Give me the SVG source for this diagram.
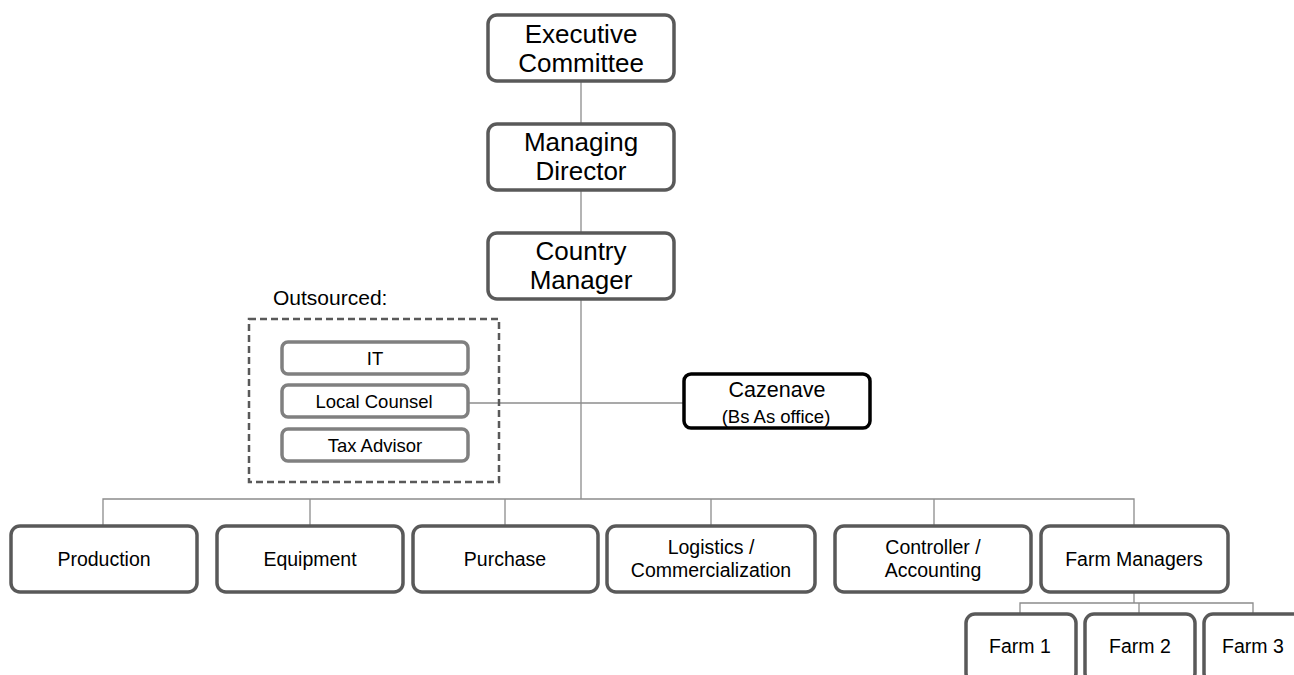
<svg xmlns="http://www.w3.org/2000/svg" width="1294" height="675" viewBox="0 0 1294 675">
  <style>
    .box { fill: #ffffff; stroke: #595959; stroke-width: 3.5; }
    .sub { fill: #ffffff; stroke: #808080; stroke-width: 3.5; }
    .key { fill: #ffffff; stroke: #000000; stroke-width: 3.5; }
    .wire { fill: none; stroke: #8c8c8c; stroke-width: 1.3; }
    .group { fill: none; stroke: #595959; stroke-width: 2.5; stroke-dasharray: 7 4; }
    text { font-family: "Liberation Sans", Arial, sans-serif; fill: #000000; text-anchor: middle; }
    .t1 { font-size: 26px; }
    .t2 { font-size: 19.5px; }
    .t3 { font-size: 18.5px; }
  </style>

  <!-- connectors -->
  <g id="connectors">
    <line class="wire" x1="581" y1="81" x2="581" y2="123"/>
    <line class="wire" x1="581" y1="191" x2="581" y2="232"/>
    <line class="wire" x1="581" y1="300" x2="581" y2="499"/>
    <line class="wire" x1="468" y1="403" x2="683" y2="403"/>
    <polyline class="wire" points="103,525 103,499 1134,499 1134,525"/>
    <line class="wire" x1="310" y1="499" x2="310" y2="525"/>
    <line class="wire" x1="505" y1="499" x2="505" y2="525"/>
    <line class="wire" x1="711" y1="499" x2="711" y2="525"/>
    <line class="wire" x1="934" y1="499" x2="934" y2="525"/>
    <polyline class="wire" points="1020,613 1020,603 1253,603 1253,613"/>
    <line class="wire" x1="1134" y1="593" x2="1134" y2="603"/>
    <line class="wire" x1="1139" y1="603" x2="1139" y2="613"/>
  </g>

  <g id="executive-committee">
    <rect class="box" x="488" y="15" width="186" height="66" rx="9"/>
    <text class="t1" x="581" y="43">Executive</text>
    <text class="t1" x="581" y="72">Committee</text>
  </g>

  <g id="managing-director">
    <rect class="box" x="488" y="124" width="186" height="66" rx="9"/>
    <text class="t1" x="581" y="151">Managing</text>
    <text class="t1" x="581" y="180">Director</text>
  </g>

  <g id="country-manager">
    <rect class="box" x="488" y="233" width="186" height="66" rx="9"/>
    <text class="t1" x="581" y="260">Country</text>
    <text class="t1" x="581" y="289">Manager</text>
  </g>

  <g id="outsourced">
    <text x="273" y="305" style="font-size:21px; text-anchor:start">Outsourced:</text>
    <rect class="group" x="249" y="319" width="250" height="163"/>
  </g>

  <g id="it">
    <rect class="sub" x="282" y="342" width="186" height="32" rx="6"/>
    <text class="t3" x="375" y="365">IT</text>
  </g>

  <g id="local-counsel">
    <rect class="sub" x="282" y="385" width="186" height="32" rx="6"/>
    <text class="t3" x="374" y="408">Local Counsel</text>
  </g>

  <g id="tax-advisor">
    <rect class="sub" x="282" y="429" width="186" height="32" rx="6"/>
    <text class="t3" x="375" y="452">Tax Advisor</text>
  </g>

  <g id="cazenave">
    <rect class="key" x="684" y="374" width="186" height="54" rx="7"/>
    <text x="777" y="397" style="font-size:21.5px">Cazenave</text>
    <text x="776" y="423" style="font-size:18.5px">(Bs As office)</text>
  </g>

  <g id="production">
    <rect class="box" x="11" y="526" width="186" height="66" rx="9"/>
    <text class="t2" x="104" y="566">Production</text>
  </g>

  <g id="equipment">
    <rect class="box" x="217" y="526" width="186" height="66" rx="9"/>
    <text class="t2" x="310" y="566">Equipment</text>
  </g>

  <g id="purchase">
    <rect class="box" x="413" y="526" width="185" height="66" rx="9"/>
    <text class="t2" x="505" y="566">Purchase</text>
  </g>

  <g id="logistics">
    <rect class="box" x="607" y="526" width="208" height="66" rx="9"/>
    <text class="t2" x="711" y="554">Logistics /</text>
    <text class="t2" x="711" y="577">Commercialization</text>
  </g>

  <g id="controller">
    <rect class="box" x="835" y="526" width="196" height="66" rx="9"/>
    <text class="t2" x="933" y="554">Controller /</text>
    <text class="t2" x="933" y="577">Accounting</text>
  </g>

  <g id="farm-managers">
    <rect class="box" x="1041" y="526" width="187" height="66" rx="9"/>
    <text class="t2" x="1134" y="566">Farm Managers</text>
  </g>

  <g id="farm-1">
    <rect class="box" x="966" y="614" width="110" height="68" rx="9"/>
    <text class="t2" x="1020" y="653">Farm 1</text>
  </g>

  <g id="farm-2">
    <rect class="box" x="1085" y="614" width="110" height="68" rx="9"/>
    <text class="t2" x="1140" y="653">Farm 2</text>
  </g>

  <g id="farm-3">
    <rect class="box" x="1204" y="614" width="110" height="68" rx="9"/>
    <text class="t2" x="1253" y="653">Farm 3</text>
  </g>
</svg>
